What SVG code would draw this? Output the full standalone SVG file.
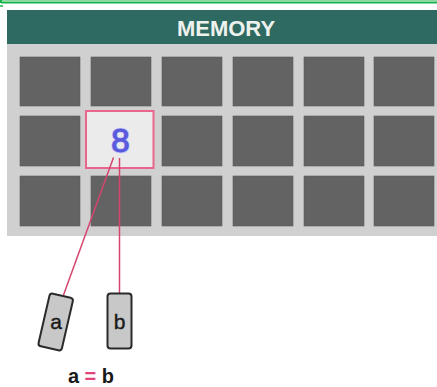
<svg xmlns="http://www.w3.org/2000/svg" width="437" height="387" viewBox="0 0 437 387">
<style>
.cell{fill:#636363;stroke:#5a5a5a;stroke-width:0.6}
.lbl{font-family:"Liberation Sans",Arial,sans-serif;font-size:21px;fill:#1a1a1a;stroke:#1a1a1a;stroke-width:0.4;text-anchor:middle}
.var{fill:#c8c8c8;stroke:#2a2a2a;stroke-width:2}
.conn{stroke:#d5456f;stroke-width:1.5;fill:none}
</style>
<rect width="437" height="387" fill="#ffffff"/>
<g id="frame">
<line x1="0" y1="0.5" x2="437" y2="0.5" stroke="#8fd6a0" stroke-width="1"/>
<line x1="1" y1="2.5" x2="437" y2="2.5" stroke="#16b34a" stroke-width="2"/>
<line x1="1" y1="0" x2="1" y2="3" stroke="#16b34a" stroke-width="2"/>
<line x1="0" y1="6" x2="3" y2="6" stroke="#16b34a" stroke-width="1.5"/>
</g>
<g id="memory">
<rect x="7" y="10" width="430" height="34" fill="#2f6a62"/>
<text x="226" y="36" font-family="Liberation Sans,Arial,sans-serif" font-size="22" font-weight="bold" fill="#eef2ee" text-anchor="middle">MEMORY</text>
<rect x="7" y="44" width="430" height="192" fill="#d0d0d0"/>
</g>
<g id="cells">
<rect class="cell" x="20" y="57" width="60" height="49"/>
<rect class="cell" x="91" y="57" width="60" height="49"/>
<rect class="cell" x="162" y="57" width="60" height="49"/>
<rect class="cell" x="233" y="57" width="60" height="49"/>
<rect class="cell" x="304" y="57" width="60" height="49"/>
<rect class="cell" x="374" y="57" width="60" height="49"/>
<rect class="cell" x="20" y="116" width="60" height="50"/>
<rect class="cell" x="162" y="116" width="60" height="50"/>
<rect class="cell" x="233" y="116" width="60" height="50"/>
<rect class="cell" x="304" y="116" width="60" height="50"/>
<rect class="cell" x="374" y="116" width="60" height="50"/>
<rect class="cell" x="20" y="176" width="60" height="50"/>
<rect class="cell" x="91" y="176" width="60" height="50"/>
<rect class="cell" x="162" y="176" width="60" height="50"/>
<rect class="cell" x="233" y="176" width="60" height="50"/>
<rect class="cell" x="304" y="176" width="60" height="50"/>
<rect class="cell" x="374" y="176" width="60" height="50"/>
</g>
<g id="value-cell">
<rect x="86" y="111" width="67.5" height="57" fill="#ebebeb" stroke="#e8668c" stroke-width="2"/>
<text x="120.5" y="152" font-family="Liberation Sans,Arial,sans-serif" font-size="33" fill="#5a5adc" stroke="#c0c0f6" stroke-width="2.5" paint-order="stroke" text-anchor="middle">8</text>
<text x="120.5" y="152" font-family="Liberation Sans,Arial,sans-serif" font-size="33" fill="#5a5adc" stroke="#5a5adc" stroke-width="0.8" text-anchor="middle">8</text>
</g>
<g id="connectors">
<line class="conn" x1="113.5" y1="157.5" x2="63.5" y2="295"/>
<line class="conn" x1="119.5" y1="158" x2="119.5" y2="293.5"/>
</g>
<g id="var-a">
<g transform="translate(55.7,322) rotate(13)">
<rect class="var" x="-12" y="-27" width="24" height="54" rx="3"/>
</g>
<text class="lbl" x="56" y="329">a</text>
</g>
<g id="var-b">
<rect class="var" x="107.5" y="293.5" width="24" height="55" rx="3"/>
<text class="lbl" x="119.5" y="328.5">b</text>
</g>
<g id="caption">
<text x="91" y="383" font-family="Liberation Sans,Arial,sans-serif" font-size="20" font-weight="bold" fill="#1a1a1a" text-anchor="middle">a <tspan fill="#e0457a">=</tspan> b</text>
</g>
</svg>
